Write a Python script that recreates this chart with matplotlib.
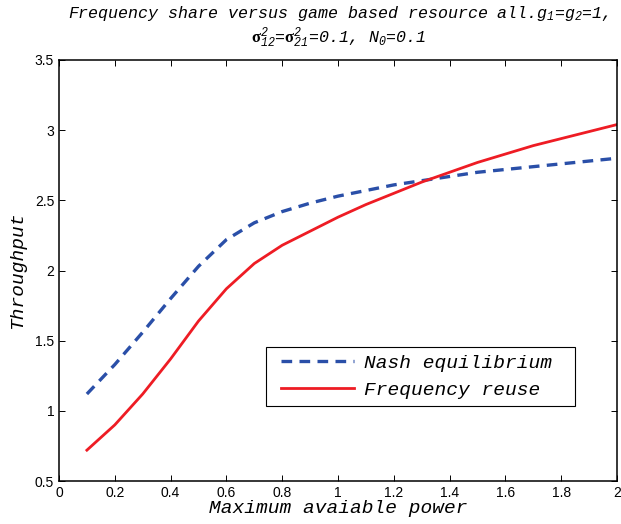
import matplotlib
matplotlib.use("Agg")
import matplotlib.pyplot as plt
from matplotlib.patches import Rectangle

power = [0.1, 0.2, 0.3, 0.4, 0.5, 0.6, 0.7, 0.8, 0.9, 1.0,
         1.1, 1.2, 1.3, 1.4, 1.5, 1.6, 1.7, 1.8, 1.9, 2.0]
nash = [1.12, 1.33, 1.56, 1.80, 2.03, 2.22, 2.34, 2.42, 2.48, 2.53,
        2.57, 2.61, 2.64, 2.67, 2.70, 2.72, 2.74, 2.76, 2.78, 2.80]
reuse = [0.72, 0.90, 1.12, 1.37, 1.64, 1.87, 2.05, 2.18, 2.28, 2.38,
         2.47, 2.55, 2.63, 2.70, 2.77, 2.83, 2.89, 2.94, 2.99, 3.04]
xticks = [0, 0.2, 0.4, 0.6, 0.8, 1, 1.2, 1.4, 1.6, 1.8, 2]
xticklabels = ["0", "0.2", "0.4", "0.6", "0.8", "1", "1.2", "1.4", "1.6", "1.8", "2"]
yticks = [0.5, 1, 1.5, 2, 2.5, 3, 3.5]
yticklabels = ["0.5", "1", "1.5", "2", "2.5", "3", "3.5"]

plt.rcParams['mathtext.fontset'] = 'custom'
plt.rcParams['mathtext.rm'] = 'Liberation Mono:italic'
plt.rcParams['mathtext.it'] = 'Liberation Mono:italic'
plt.rcParams['mathtext.sf'] = 'Liberation Serif:bold'

mono = dict(family='Liberation Mono', style='italic')

fig = plt.figure(figsize=(6.21, 5.24), dpi=100)
ax = fig.add_axes([0.095, 0.082, 0.8986, 0.8035])

ax.plot(power, nash, color='#2a4fa8', linestyle=(0, (3.2, 2.2)), linewidth=2.4,
        label='Nash equilibrium')
ax.plot(power, reuse, color='#ee1c24', linestyle='-', linewidth=2.0,
        label='Frequency reuse')

ax.set_xlim(0, 2)
ax.set_ylim(0.5, 3.5)
ax.set_xticks(xticks)
ax.set_xticklabels(xticklabels, family='Liberation Sans', fontsize=10)
ax.set_yticks(yticks)
ax.set_yticklabels(yticklabels, family='Liberation Sans', fontsize=10)
ax.tick_params(direction='in', top=True, right=True, length=4, width=0.7)
for s in ax.spines.values():
    s.set_linewidth(1.1)

ax.set_xlabel('Maximum avaiable power', fontsize=14, labelpad=0, **mono)
ax.set_ylabel('Throughput', fontsize=14, labelpad=6, **mono)

title = ('Frequency share versus game based resource all.$g_1$=$g_2$=1,\n'
         r'$\mathsf{\sigma}^2_{12}$=$\mathsf{\sigma}^2_{21}$=0.1, $N_0$=0.1')
ax.set_title(title, fontsize=12, pad=12, **mono)

# legend frame (MATLAB-style box with wider right margin)
ax.add_patch(Rectangle((0.371, 0.178), 0.554, 0.14, transform=ax.transAxes,
                       facecolor='white', edgecolor='black', linewidth=0.8,
                       zorder=4))
leg = ax.legend(loc='lower left', bbox_to_anchor=(0.385, 0.178),
                borderaxespad=0,
                prop=dict(family='Liberation Mono', style='italic', size=14),
                frameon=False,
                handlelength=3.75, handletextpad=0.5, borderpad=0.37,
                labelspacing=0.49)
leg.set_zorder(5)

fig.savefig('out.png', dpi=100)
